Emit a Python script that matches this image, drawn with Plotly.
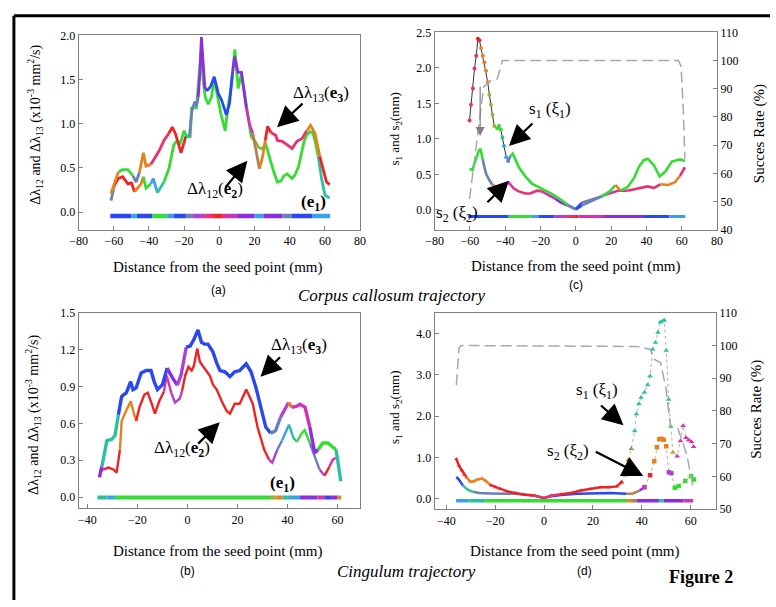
import plotly.graph_objects as go

W, H = 776, 607
SERIF = "Liberation Serif, Times New Roman, serif"
SANS = "Liberation Sans, Arial, sans-serif"

# ======================= DATA =======================
# ---- Panel (a): Corpus callosum, delta-lambda (x10^-3 mm^2/s) ----
a_d13_x = [-61.6, -59.7, -57.5, -55, -52, -49.1, -47.3, -45.4, -43.2, -41.7, -38.9, -36.2, -34.3,
           -31.5, -28.7, -26.8, -25, -23.1, -21.8, -19, -17, -15.7, -14, -13, -12, -11, -10.2, -9.3,
           -8.3, -7.2, -5, -2.9, -0.6, 1.2, 4, 5.8, 7.3, 8.7, 10.6, 12.6, 15.3, 17.2, 19, 20.9,
           22.8, 24.6, 26.1, 27.4, 29.3, 32, 33, 35.8, 38.6, 41.3, 44.1, 46.9, 49.7, 51.9, 54.4,
           57.1, 59, 60.9, 62.7]
a_d13_y = [0.21, 0.32, 0.45, 0.48, 0.48, 0.41, 0.34, 0.45, 0.67, 0.52, 0.54, 0.63, 0.69,
           0.81, 0.89, 0.96, 0.89, 0.76, 0.67, 0.86, 0.86, 1.14, 1.25, 1.2, 1.3, 1.6, 1.98, 1.65,
           1.42, 1.37, 1.42, 1.53, 1.34, 1.27, 1.10, 1.23, 1.55, 1.76, 1.58, 1.58, 1.18, 0.99, 0.89, 0.70,
           0.49, 0.63, 0.81, 0.97, 0.90, 0.87, 0.81, 0.80, 0.76, 0.72, 0.80, 0.83, 0.92, 0.98, 0.89,
           0.63, 0.47, 0.34, 0.31]
a_d12_x = [-61.6, -59.7, -57.5, -55, -52, -50, -48.2, -44.5, -43.2, -41.7, -38.9, -37.6, -35.2,
           -31.5, -28.7, -25.9, -24, -22.2, -20, -18.5, -16.6, -15.7, -13, -11.5, -10.2, -9.3, -8,
           -6.4, -4.5, -2.9, -1, 1, 3.3, 5, 7, 8.8, 10.7, 12.5, 14.4, 16.3, 18.1, 20, 22.8, 24.5,
           26.5, 29.3, 31, 33, 35, 36.7, 38.6, 41.3, 43, 45.1, 47.9, 49.5, 51.6, 53, 54.4, 56.2,
           58.1, 60, 62.7]
a_d12_y = [0.13, 0.30, 0.38, 0.40, 0.32, 0.33, 0.23, 0.32, 0.40, 0.27, 0.32, 0.38, 0.22,
           0.34, 0.49, 0.76, 0.81, 0.78, 0.92, 0.85, 0.85, 1.18, 1.18, 1.55, 1.86, 1.5, 1.3,
           1.22, 1.3, 1.5, 1.3, 1.1, 0.92, 1.2, 1.45, 1.84, 1.40, 1.56, 1.34, 1.09, 0.85, 0.81, 0.72, 0.72,
           0.76, 0.56, 0.45, 0.34, 0.35, 0.41, 0.43, 0.38, 0.42, 0.52, 0.78, 0.87, 0.91, 0.90, 0.81, 0.63,
           0.38, 0.19, 0.16]
a_e1_x = [-62, -50, -47, -38, -30, -26, -19, -15, -8, -3, 2, 10, 20, 25, 36, 41, 53, 63]
a_e1_level = -0.045

# ---- Panel (c): Corpus callosum, s1 / s2 (mm) and success rate (%) ----
c_s1_x = [-60.2, -59.4, -58.3, -57.4, -56.4, -55.5, -54.6, -53.7, -52.7, -51.8, -50.9, -49.9, -49.0,
          -48.1, -47.2, -46.2, -44.5, -43.5, -42.5, -41.6, -40.7, -39.4, -38.3, -37, -35.7, -32.3,
          -28.6, -24.9, -19.3, -13.8, -10, -4.5, 0, 3.3, 8.9, 14.5, 19.1, 22.5, 25.2, 29.3, 33,
          35.8, 38.5, 40.8, 44.2, 47.5, 50.7, 54.4, 59, 61.8]
c_s1_y = [1.26, 1.48, 1.71, 1.99, 2.17, 2.41, 2.39, 2.28, 2.17, 2.08, 1.96, 1.80, 1.62,
          1.48, 1.34, 1.18, 1.15, 1.18, 1.13, 1.02, 0.90, 0.74, 0.69, 0.76, 0.79, 0.60,
          0.47, 0.37, 0.30, 0.23, 0.17, 0.07, 0.01, 0.10, 0.15, 0.19, 0.26, 0.35, 0.27, 0.32, 0.45,
          0.61, 0.70, 0.72, 0.63, 0.47, 0.54, 0.68, 0.71, 0.69]
c_s2_x = [-60.2, -58.6, -56.8, -55, -54, -52.7, -50.9, -49, -47.2, -45.3, -42.5, -39.7, -37.9,
          -35.1, -32.3, -28.6, -25.8, -22.1, -19.3, -15.6, -11.9, -8.2, -4.5, 0, 3.3, 8.9, 16.3,
          23.8, 29.3, 34.9, 40.5, 44.2, 47.9, 52.5, 56.2, 59, 61.8]
c_s2_y = [0.58, 0.56, 0.70, 0.83, 0.86, 0.70, 0.51, 0.42, 0.35, 0.33, 0.34, 0.37, 0.38,
          0.30, 0.26, 0.23, 0.23, 0.27, 0.26, 0.21, 0.16, 0.10, 0.06, 0.005, 0.06, 0.12, 0.21,
          0.27, 0.27, 0.30, 0.33, 0.31, 0.36, 0.35, 0.39, 0.48, 0.60]
c_rate_x = [-60.2, -56, -52.2, -48, -44.4, -41.6, 58.1, 59.6, 60.9, 61.8]
c_rate_y = [50.9, 70.8, 90.7, 93, 93.6, 100, 100, 98, 82.5, 65.2]
c_e1_x = [-61, -38, -25, -21, -12, -6, -1, 1.5, 16, 38, 53, 62]
c_e1_level = -0.092

# ---- Panel (b): Cingulum, delta-lambda ----
b_d13_x = [-35.2, -34.2, -32.2, -30.3, -29, -27.6, -26.3, -24.4, -22.7, -21.8, -20.5, -18.5, -16.5,
           -14.6, -13.3, -12, -10, -8.1, -6, -4, -2.5, -0.5, 1.1, 2.6, 4.2, 5.6, 6.9, 8.2, 10.2,
           11.7, 13, 15, 17, 18.9, 20.9, 23.5, 25.4, 27.4, 29.4, 31.3, 33.3, 35.2, 37.2, 39.1, 40.4,
           41.7, 43.7, 45, 47, 48.9, 50.9, 52.2, 54.1, 56.1, 58, 59.4, 60.7, 61.3]
b_d13_y = [0.16, 0.25, 0.46, 0.47, 0.50, 0.67, 0.82, 0.85, 0.94, 0.875, 0.89, 1.01, 1.03,
           1.03, 0.94, 0.875, 0.915, 1.05, 0.97, 0.91, 1.0, 1.22, 1.23, 1.285, 1.36, 1.26, 1.245, 1.245, 1.18,
           1.09, 1.03, 1.02, 0.98, 1.02, 1.03, 1.085, 1.02, 0.89, 0.73, 0.57, 0.52, 0.54, 0.65, 0.72, 0.77,
           0.73, 0.74, 0.755, 0.73, 0.57, 0.36, 0.385, 0.44, 0.44, 0.41, 0.385, 0.23, 0.13]
b_d12_x = [-35.2, -33.5, -31.6, -29.6, -28.3, -27, -26.3, -25, -23.7, -22.7, -21.4, -20.5, -19.2,
           -17.2, -15.9, -14.3, -13, -11.3, -9.4, -8.3, -6.5, -5, -3.1, -2.2, -0.9, 0.4, 1.7, 2.6,
           3.9, 5, 6.3, 7.6, 8.9, 10.2, 11.7, 13.7, 15.7, 17, 18.9, 20.9, 23.5, 26.1, 28, 30.7,
           32.6, 33.9, 35.9, 37.8, 39.8, 40.6, 42.4, 43.7, 45.7, 46.9, 48.9, 50.9, 52.8, 54.8, 56.8,
           58.1, 59.3]
b_d12_y = [0.21, 0.225, 0.24, 0.225, 0.20, 0.385, 0.62, 0.68, 0.73, 0.78, 0.68, 0.62, 0.73,
           0.835, 0.85, 0.76, 0.68, 0.78, 0.86, 0.99, 0.85, 0.77, 0.80, 0.86, 0.99, 1.06, 1.03, 1.07,
           1.21, 1.10, 1.06, 1.03, 0.99, 0.915, 0.875, 0.78, 0.70, 0.68, 0.76, 0.76, 0.875, 0.76, 0.57, 0.385,
           0.305, 0.28, 0.385, 0.46, 0.56, 0.59, 0.48, 0.45, 0.52, 0.545, 0.44, 0.33, 0.225, 0.175, 0.25,
           0.305, 0.32]
b_e1_x = [-36, -32, -29, 33, 35.5, 38, 41, 45, 52, 55, 57, 60, 61.5]
b_e1_level = -0.003

# ---- Panel (d): Cingulum, s1 / s2 (mm) and success rate (%) ----
d_s1_x = [-35.9, -34.8, -33.7, -32.7, -31.6, -30.3, -28.9, -27.2, -25.4, -23.8, -21.8, -19.8, -17.8,
          -15.1, -11.8, -7.8, -3.8, -0.1, 2.9, 6.9, 11, 15, 19, 23, 26.4, 29.7, 31.7, 33.1, 34.4,
          35.7, 37.1, 37.8, 38.8, 39.7, 41.1, 42.4, 43.4, 44.4, 45.6, 46.6, 47.6, 48.6, 49.2, 50.0,
          51.0, 51.9, 52.7, 54.5, 55.8, 56.9, 58.1, 59.2, 60.3, 61.2]
d_s1_y = [0.96, 0.80, 0.69, 0.59, 0.51, 0.42, 0.42, 0.47, 0.49, 0.43, 0.33, 0.28, 0.24,
          0.18, 0.14, 0.10, 0.08, 0.015, 0.08, 0.11, 0.14, 0.20, 0.24, 0.28, 0.28, 0.30, 0.40, 0.57, 0.93,
          1.21, 1.64, 2.05, 2.30, 2.45, 2.58, 2.75, 2.97, 3.61, 3.78, 4.02, 4.27, 4.30, 4.32, 3.59,
          2.40, 1.75, 1.12, 1.03, 1.40, 1.77, 1.48, 1.42, 1.38, 1.26]
d_s2_x = [-35.9, -34.8, -33.2, -31.2, -29.2, -26.5, -22, -17, -12, -6.4, -3, 0, 3, 7, 13.6, 20.3,
          27, 33.7, 36.4, 39.1, 41.1, 43.4, 45.1, 46.2, 47.1, 48.0, 49.0, 50.0, 51.1, 52.1, 53.5,
          55.1, 57.8, 60.2, 61.3]
d_s2_y = [0.53, 0.46, 0.32, 0.22, 0.17, 0.14, 0.13, 0.13, 0.12, 0.09, 0.06, 0.02, 0.06, 0.09, 0.12, 0.13,
          0.14, 0.12, 0.13, 0.20, 0.28, 0.57, 0.91, 1.25, 1.44, 1.45, 1.43, 1.27, 0.64, 0.62, 0.27,
          0.31, 0.43, 0.55, 0.47]
d_rate_x = [-35.9, -34.8, -33.9, 38.4, 43.5, 45, 47.7, 49.8, 51.8, 54.8, 56.5, 58.5, 61]
d_rate_y = [87.9, 99.3, 100, 99.7, 98.8, 95.8, 94.7, 87.4, 75.1, 74.6, 70.9, 66.4, 56.5]
d_e1_x = [-36, -31, -24, 34, 36, 38, 47, 49, 57, 61]
d_e1_level = -0.048

# ---- ticks ----
ac_xticks = [-80, -60, -40, -20, 0, 20, 40, 60, 80]
bd_xticks = [-40, -20, 0, 20, 40, 60]
a_yticks = [0.0, 0.5, 1.0, 1.5, 2.0]
c_yticks = [0.0, 0.5, 1.0, 1.5, 2.0, 2.5]
c_rticks = [40, 50, 60, 70, 80, 90, 100, 110]
b_yticks = [0.0, 0.3, 0.6, 0.9, 1.2, 1.5]
d_yticks = [0.0, 1.0, 2.0, 3.0, 4.0]
d_rticks = [50, 60, 70, 80, 90, 100, 110]

# ======================= STYLE =======================
PAL = {
    'red': '#ee2424', 'pink': '#e8306e', 'magenta': '#d232b4', 'orange': '#e8801e',
    'brown': '#b08050', 'olive': '#a0b030', 'green': '#34dc34', 'lime': '#66ee22',
    'teal': '#2cc0a0', 'lightblue': '#3aa0e8', 'blue': '#2a48f0', 'steel': '#6a80b8',
    'purple': '#8a2ee0', 'violet': '#b040d0',
}
ST = {
    'a13': [(-63, 'orange'), (-58.5, 'green'), (-50.5, 'steel'), (-46.5, 'orange'), (-41, 'pink'),
            (-30, 'red'), (-20.5, 'teal'), (-17.5, 'steel'), (-12, 'purple'), (-8, 'blue'),
            (6, 'purple'), (13.5, 'magenta'), (18, 'brown'), (21.5, 'orange'), (26, 'red'),
            (28.5, 'pink'), (48, 'orange'), (55, 'red')],
    'a12': [(-63, 'steel'), (-60.5, 'red'), (-49, 'orange'), (-44, 'green'), (-41.5, 'teal'),
            (-39.5, 'lightblue'), (-36, 'teal'), (-33, 'green'), (16.5, 'olive'), (21, 'green'),
            (56, 'teal')],
    'ae1': [(-63, 'blue'), (-50, 'lightblue'), (-47, 'blue'), (-38, 'green'), (-30, 'lightblue'),
            (-26, 'blue'), (-19, 'steel'), (-15, 'violet'), (-8, 'pink'), (-3, 'red'), (2, 'magenta'),
            (10, 'purple'), (20, 'lightblue'), (25, 'purple'), (36, 'steel'), (41, 'blue'),
            (53, 'lightblue')],
    'c1': [(-61, 'pink'), (-56, 'red'), (-54, 'orange'), (-49.5, 'olive'), (-45, 'green'),
           (-42, 'teal'), (-41, 'lightblue'), (-39, 'steel'), (-37.5, 'green'), (-6, 'steel'),
           (-1, 'blue'), (2, 'steel'), (12, 'green'), (21, 'orange'), (24.5, 'green'), (61.5, 'orange')],
    'c2': [(-61, 'green'), (-53, 'steel'), (-48, 'orange'), (-44, 'magenta'), (-37, 'pink'),
           (-22, 'magenta'), (-15, 'purple'), (-5, 'steel'), (-1, 'blue'), (2, 'steel'),
           (14, 'magenta'), (24, 'pink'), (45, 'orange'), (58, 'pink')],
    'ce1': [(-62, 'blue'), (-38, 'green'), (-25, 'lightblue'), (-21, 'blue'), (-12, 'violet'),
            (-6, 'pink'), (-1, 'red'), (1.5, 'magenta'), (16, 'purple'), (38, 'blue'), (53, 'lightblue')],
    'b13': [(-36, 'purple'), (-34.5, 'teal'), (-28.5, 'blue'), (-9.5, 'purple'), (-5, 'violet'),
            (-0.8, 'blue'), (33, 'steel'), (36, 'violet'), (39.5, 'orange'), (41, 'magenta'),
            (48.5, 'purple'), (51, 'green'), (59, 'teal')],
    'b12': [(-36, 'magenta'), (-34.5, 'red'), (-27.5, 'orange'), (-21, 'red'), (-9.5, 'magenta'),
            (-7.5, 'violet'), (-2.5, 'red'), (31.5, 'violet'), (35, 'steel'), (37, 'lightblue'),
            (40, 'teal'), (43.5, 'green'), (48, 'steel'), (51.5, 'violet'), (53.5, 'red'), (55.5, 'magenta')],
    'be1': [(-37, 'teal'), (-32, 'lightblue'), (-29, 'green'), (33, 'olive'), (35.5, 'orange'),
            (38, 'teal'), (41, 'lightblue'), (45, 'purple'), (52, 'magenta'), (55, 'blue'),
            (57, 'purple'), (60, 'orange')],
    'd1': [(-37, 'red'), (-32.2, 'orange'), (-22.5, 'red'), (-5, 'pink'), (4, 'red'),
           (32.5, 'orange'), (35, 'brown'), (36.5, 'teal'), (51.5, 'green'), (52.3, 'olive'), (54, 'magenta')],
    'd2': [(-37, 'blue'), (-34, 'teal'), (-29.5, 'steel'), (-5, 'purple'), (3, 'blue'), (32, 'brown'),
           (37, 'purple'), (40, 'magenta'), (42.5, 'red'), (44.5, 'orange'), (50.5, 'violet'), (52.8, 'green')],
    'de1': [(-37, 'lightblue'), (-31, 'teal'), (-24, 'green'), (34, 'orange'), (36, 'brown'),
            (38, 'purple'), (47, 'teal'), (49, 'purple'), (57, 'magenta')],
}


def color_at(x, stops):
    c = stops[0][1]
    for sx, name in stops:
        if x >= sx:
            c = name
        else:
            break
    return PAL[c]


fig = go.Figure()


def add_colored(xs, ys, stops, xa, ya, width, lo=-1e9, hi=1e9):
    idx = [i for i, x in enumerate(xs) if lo <= x <= hi]
    px = [xs[i] for i in idx]
    py = [ys[i] for i in idx]
    cols = [color_at(x, stops) for x in px]
    n = len(px)
    i = 0
    while i < n - 1:
        j = i
        while j + 1 < n - 1 and cols[j + 1] == cols[i]:
            j += 1
        fig.add_trace(go.Scatter(x=px[i:j + 2], y=py[i:j + 2], mode='lines',
                                 line=dict(color=cols[i], width=width),
                                 xaxis=xa, yaxis=ya, hoverinfo='skip', showlegend=False))
        i = j + 1


def add_markers(xs, ys, stops, xa, ya, size, symbol, lo=-1e9, hi=1e9, line=None):
    idx = [i for i, x in enumerate(xs) if lo <= x <= hi]
    px = [xs[i] for i in idx]
    py = [ys[i] for i in idx]
    mode = 'markers' if line is None else 'lines+markers'
    fig.add_trace(go.Scatter(x=px, y=py, mode=mode,
                             line=line if line else None,
                             marker=dict(color=[color_at(x, stops) for x in px], size=size,
                                         symbol=symbol, line=dict(width=0)),
                             xaxis=xa, yaxis=ya, hoverinfo='skip', showlegend=False))


def level_line(xs, level):
    return [level for _ in xs]


RATE_LINE = dict(color='#a8a8a8', width=1.5, dash='11px,5px')

# ---- panel a ----
add_colored(a_d12_x, a_d12_y, ST['a12'], 'x', 'y', 2.8)
add_colored(a_d13_x, a_d13_y, ST['a13'], 'x', 'y', 2.8)
add_colored(a_e1_x, level_line(a_e1_x, a_e1_level), ST['ae1'], 'x', 'y', 4.5)

# ---- panel c ----
fig.add_trace(go.Scatter(x=c_rate_x, y=c_rate_y, mode='lines', line=RATE_LINE,
                         xaxis='x2', yaxis='y3', hoverinfo='skip', showlegend=False))
add_colored(c_s2_x, c_s2_y, ST['c2'], 'x2', 'y2', 2.6)
add_markers(c_s1_x, c_s1_y, ST['c1'], 'x2', 'y2', 4, 'circle', hi=-38,
            line=dict(color='#333333', width=1))
add_colored(c_s1_x, c_s1_y, ST['c1'], 'x2', 'y2', 2.6, lo=-38.5)
add_colored(c_e1_x, level_line(c_e1_x, c_e1_level), ST['ce1'], 'x2', 'y2', 3)

# ---- panel b ----
add_colored(b_d12_x, b_d12_y, ST['b12'], 'x3', 'y4', 2.4)
add_colored(b_d13_x, b_d13_y, ST['b13'], 'x3', 'y4', 3.4)
add_colored(b_e1_x, level_line(b_e1_x, b_e1_level), ST['be1'], 'x3', 'y4', 4)

# ---- panel d ----
fig.add_trace(go.Scatter(x=d_rate_x, y=d_rate_y, mode='lines', line=RATE_LINE,
                         xaxis='x4', yaxis='y6', hoverinfo='skip', showlegend=False))
add_colored(d_s2_x, d_s2_y, ST['d2'], 'x4', 'y5', 2.5, hi=42)
add_markers(d_s2_x, d_s2_y, ST['d2'], 'x4', 'y5', 4.5, 'square', lo=41,
            line=dict(color='#b0b0b0', width=1, dash='dot'))
add_colored(d_s1_x, d_s1_y, ST['d1'], 'x4', 'y5', 2.5, hi=33)
add_markers(d_s1_x, d_s1_y, ST['d1'], 'x4', 'y5', 5, 'triangle-up', lo=31.5,
            line=dict(color='#b0b0b0', width=1, dash='dot'))
add_markers(d_s1_x, d_s1_y, ST['d1'], 'x4', 'y5', 4, 'triangle-up', hi=31)
add_colored(d_e1_x, level_line(d_e1_x, d_e1_level), ST['de1'], 'x4', 'y5', 3.5)

# ======================= LAYOUT =======================
def xd(l, r):
    return [l / W, r / W]


def yd(top, bot):
    return [1 - bot / H, 1 - top / H]


AX = dict(showline=True, linecolor='#808080', linewidth=1, ticks='inside', ticklen=4,
          tickcolor='#808080', showgrid=False, zeroline=False,
          tickfont=dict(family=SERIF, size=12, color='black'))

fig.update_layout(
    width=W, height=H, autosize=False, margin=dict(l=0, r=0, t=0, b=0),
    paper_bgcolor='white', plot_bgcolor='white', showlegend=False,
    xaxis=dict(AX, domain=xd(71, 358), range=[-80, 80], tickvals=ac_xticks, anchor='y', mirror=True),
    yaxis=dict(AX, domain=yd(29, 228), range=[-0.2, 2.0], tickvals=a_yticks, tickformat='.1f',
               anchor='x', mirror=True),
    xaxis2=dict(AX, domain=xd(434, 722), range=[-80, 80], tickvals=ac_xticks, anchor='y2', mirror=True),
    yaxis2=dict(AX, domain=yd(26, 228), range=[-0.28, 2.5], tickvals=c_yticks, tickformat='.1f',
                anchor='x2', mirror=True),
    yaxis3=dict(AX, range=[40, 110], tickvals=c_rticks, anchor='x2', overlaying='y2', side='right'),
    xaxis3=dict(AX, domain=xd(71, 358), range=[-43.5, 69], tickvals=bd_xticks, anchor='y4', mirror=True),
    yaxis4=dict(AX, domain=yd(313, 513), range=[-0.09, 1.5], tickvals=b_yticks, tickformat='.1f',
                anchor='x3', mirror=True),
    xaxis4=dict(AX, domain=xd(434, 721), range=[-44.8, 70.4], tickvals=bd_xticks, anchor='y5', mirror=True),
    yaxis5=dict(AX, domain=yd(313, 514), range=[-0.25, 4.5], tickvals=d_yticks, tickformat='.1f',
                anchor='x4', mirror=True),
    yaxis6=dict(AX, range=[50, 110], tickvals=d_rticks, anchor='x4', overlaying='y5', side='right'),
)

ann = []


def ptext(px, py, text, size, family=SERIF, angle=0, color='black'):
    ann.append(dict(x=px / W, y=1 - py / H, xref='paper', yref='paper', text=text, showarrow=False,
                    textangle=angle, xanchor='center', yanchor='middle',
                    font=dict(family=family, size=size, color=color)))


def dtext(xa, ya, x, y, text, size=17):
    ann.append(dict(x=x, y=y, xref=xa, yref=ya, text=text, showarrow=False, xanchor='center',
                    yanchor='middle', font=dict(family=SERIF, size=size, color='black')))


def darrow(xa, ya, x, y, ax, ay, color='black', width=2.2, size=1.9):
    ann.append(dict(x=x, y=y, xref=xa, yref=ya, ax=ax, ay=ay, text='', showarrow=True,
                    arrowhead=2, arrowsize=size, arrowwidth=width, arrowcolor=color, standoff=0))


YT1 = "Δλ<sub>12</sub> and Δλ<sub>13</sub> (x10<sup>-3</sup> mm<sup>2</sup>/s)"
YT2 = "s<sub>1</sub> and s<sub>2</sub>(mm)"
XT = "Distance from the seed point (mm)"

# axis titles
ptext(213, 267, XT, 15)
ptext(578, 266, XT, 15)
ptext(213, 557, XT, 15)
ptext(577, 557, XT, 15)
ptext(27, 120, YT1, 14, angle=-90)
ptext(25, 418, YT1, 14, angle=-90)
ptext(394, 125, YT2, 13, angle=-90)
ptext(394, 410, YT2, 13, angle=-90)
ptext(765, 130, "Succes Rate (%)", 15, angle=-90)
ptext(762, 412, "Succes Rate (%)", 15, angle=-90)

# panel labels and captions
ptext(214, 290, "(a)", 12, family=SANS)
ptext(578, 285, "(c)", 12, family=SANS)
ptext(182, 577, "(b)", 12, family=SANS)
ptext(587, 577, "(d)", 12, family=SANS)
ptext(390, 295, "<i>Corpus callosum trajectory</i>", 17)
ptext(405, 578, "<i>Cingulum trajectory</i>", 17)
ptext(706, 583, "<b>Figure 2</b>", 18)

# panel a labels
dtext('x', 'y', 57.7, 1.34, "Δλ<sub>13</sub>(<b>e<sub>3</sub></b>)")
darrow('x', 'y', 32.8, 0.96, 27, -25)
dtext('x', 'y', -2.5, 0.255, "Δλ<sub>12</sub>(<b>e<sub>2</sub></b>)")
darrow('x', 'y', 15.9, 0.58, -23, 28)
dtext('x', 'y', 53.8, 0.10, "<b>(e<sub>1</sub>)</b>")

# panel c labels
dtext('x2', 'y2', -14.5, 1.41, "s<sub>1</sub> (ξ<sub>1</sub>)")
darrow('x2', 'y2', -37.9, 0.90, 25, -24)
dtext('x2', 'y2', -67.4, -0.055, "s<sub>2</sub> (ξ<sub>2</sub>)")
darrow('x2', 'y2', -37.9, 0.41, -23, 23)
darrow('x2', 'y2', -54.2, 1.04, 0, -51, color='#808080', width=1.2, size=1.5)

# panel b labels
dtext('x3', 'y4', 44.6, 1.23, "Δλ<sub>13</sub>(<b>e<sub>3</sub></b>)")
darrow('x3', 'y4', 29.2, 0.98, 21, -21)
dtext('x3', 'y4', -2.3, 0.39, "Δλ<sub>12</sub>(<b>e<sub>2</sub></b>)")
darrow('x3', 'y4', 12.9, 0.61, -23, 23)
dtext('x3', 'y4', 38, 0.11, "<b>(e<sub>1</sub>)</b>")

# panel d labels
dtext('x4', 'y5', 21.7, 2.61, "s<sub>1</sub> (ξ<sub>1</sub>)")
darrow('x4', 'y5', 32.5, 1.78, -24, -21)
dtext('x4', 'y5', 9.6, 1.14, "s<sub>2</sub> (ξ<sub>2</sub>)")
darrow('x4', 'y5', 40.6, 0.55, -49, -25)

fig.update_layout(annotations=ann)

# outer frame (top and left black rules)
fig.update_layout(shapes=[
    dict(type='line', xref='paper', yref='paper', x0=5 / W, x1=1, y0=1 - 9 / H, y1=1 - 9 / H,
         line=dict(color='black', width=3)),
    dict(type='line', xref='paper', yref='paper', x0=5 / W, x1=5 / W, y0=0, y1=1 - 9 / H,
         line=dict(color='black', width=3)),
])

fig.write_html("out.html", config={'displayModeBar': False, 'staticPlot': True},
               post_script="document.body.style.margin='0px';document.body.style.overflow='hidden';")
